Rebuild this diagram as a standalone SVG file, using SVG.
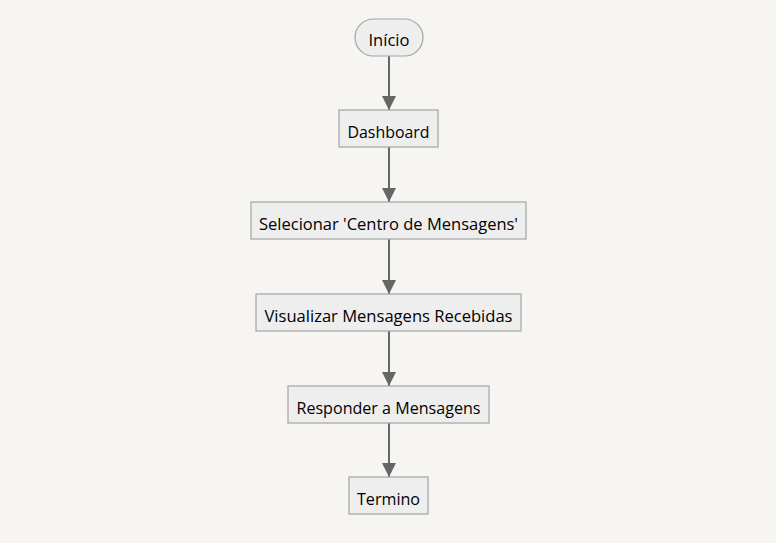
<svg xmlns="http://www.w3.org/2000/svg" width="776" height="543" viewBox="0 0 776 543">
<style>
.n{fill:#eeeeee;stroke:#a3a3a3;stroke-width:1.2}
.t{font-family:"Open Sans","DejaVu Sans",sans-serif;font-size:16px;fill:#000;text-anchor:middle;dominant-baseline:central}
.e{stroke:#666;stroke-width:2;fill:none}
</style>
<defs>
<marker id="a" markerWidth="14" markerHeight="14" refX="14" refY="7" orient="auto" markerUnits="userSpaceOnUse">
<path d="M0,0 L14,7 L0,14 z" fill="#666"/>
</marker>
</defs>
<rect width="776" height="543" fill="#f6f5f2"/>
<g id="edges">
<line class="e" x1="389" y1="56" x2="389" y2="110" marker-end="url(#a)"/>
<line class="e" x1="389" y1="147" x2="389" y2="202" marker-end="url(#a)"/>
<line class="e" x1="389" y1="239" x2="389" y2="294" marker-end="url(#a)"/>
<line class="e" x1="389" y1="331" x2="389" y2="386" marker-end="url(#a)"/>
<line class="e" x1="389" y1="423" x2="389" y2="477" marker-end="url(#a)"/>
</g>
<g id="inicio"><rect class="n" x="355" y="19" width="68" height="37" rx="18.5"/><text class="t" x="389" y="40" textLength="41" lengthAdjust="spacingAndGlyphs">Início</text></g>
<g id="dashboard"><rect class="n" x="339" y="110" width="99" height="37"/><text class="t" x="388.5" y="131.5" textLength="82" lengthAdjust="spacingAndGlyphs">Dashboard</text></g>
<g id="selecionar"><rect class="n" x="251" y="202" width="275" height="37"/><text class="t" x="388.5" y="223.5" textLength="259" lengthAdjust="spacingAndGlyphs">Selecionar 'Centro de Mensagens'</text></g>
<g id="visualizar"><rect class="n" x="256" y="294" width="265" height="37"/><text class="t" x="388.5" y="315.5" textLength="248" lengthAdjust="spacingAndGlyphs">Visualizar Mensagens Recebidas</text></g>
<g id="responder"><rect class="n" x="288" y="386" width="201" height="37"/><text class="t" x="388.5" y="407.5" textLength="184" lengthAdjust="spacingAndGlyphs">Responder a Mensagens</text></g>
<g id="termino"><rect class="n" x="349" y="477" width="79" height="37"/><text class="t" x="388.5" y="498.5" textLength="63" lengthAdjust="spacingAndGlyphs">Termino</text></g>
</svg>
